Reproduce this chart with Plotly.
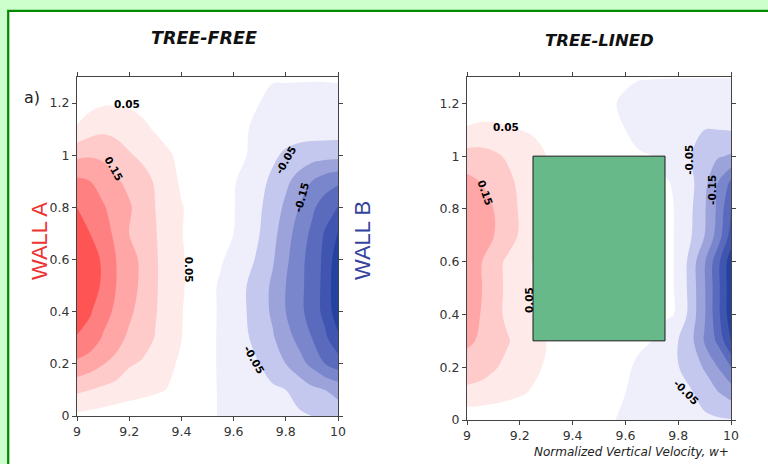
import plotly.graph_objects as go

# ---------------- data ----------------
X_VALUES = [9.00, 9.05, 9.10, 9.15, 9.20, 9.25, 9.30, 9.35, 9.40, 9.45, 9.50,
            9.55, 9.60, 9.65, 9.70, 9.75, 9.80, 9.85, 9.90, 9.95, 10.00]
Y_VALUES = [0.0, 0.1, 0.2, 0.3, 0.4, 0.5, 0.6, 0.7, 0.8, 0.9, 1.0, 1.1, 1.2, 1.3]

# normalized vertical velocity w+, TREE-FREE canyon (rows = Y_VALUES, cols = X_VALUES)
FREE_W = [
    [0.04, 0.035, 0.03, 0.025, 0.02, 0.017, 0.014, 0.012, 0.01, 0.008, 0.008, -0.003, -0.01, -0.016, -0.022, -0.028, -0.035, -0.043, -0.05, -0.06, -0.075],
    [0.11, 0.10, 0.09, 0.08, 0.072, 0.065, 0.057, 0.048, 0.035, 0.025, 0.01, -0.004, -0.012, -0.022, -0.033, -0.042, -0.05, -0.068, -0.088, -0.1, -0.115],
    [0.19, 0.175, 0.152, 0.135, 0.105, 0.095, 0.078, 0.06, 0.042, 0.03, 0.01, -0.005, -0.02, -0.035, -0.05, -0.075, -0.1, -0.13, -0.163, -0.2, -0.225],
    [0.245, 0.23, 0.195, 0.17, 0.14, 0.12, 0.098, 0.075, 0.051, 0.033, 0.01, -0.005, -0.025, -0.045, -0.07, -0.095, -0.13, -0.165, -0.2, -0.24, -0.29],
    [0.29, 0.255, 0.22, 0.19, 0.16, 0.13, 0.103, 0.078, 0.052, 0.034, 0.012, -0.005, -0.027, -0.05, -0.078, -0.108, -0.15, -0.185, -0.222, -0.265, -0.33],
    [0.315, 0.28, 0.24, 0.20, 0.17, 0.14, 0.105, 0.08, 0.055, 0.035, 0.012, -0.005, -0.027, -0.05, -0.078, -0.108, -0.15, -0.185, -0.222, -0.265, -0.34],
    [0.315, 0.28, 0.24, 0.20, 0.17, 0.14, 0.105, 0.08, 0.055, 0.035, 0.015, 0.004, -0.012, -0.035, -0.06, -0.095, -0.14, -0.183, -0.22, -0.262, -0.33],
    [0.29, 0.25, 0.22, 0.19, 0.15, 0.125, 0.103, 0.075, 0.052, 0.033, 0.017, 0.008, 0.0, -0.022, -0.05, -0.085, -0.128, -0.172, -0.21, -0.255, -0.305],
    [0.25, 0.23, 0.205, 0.18, 0.155, 0.13, 0.10, 0.077, 0.053, 0.035, 0.017, 0.008, 0.002, -0.018, -0.044, -0.075, -0.11, -0.15, -0.19, -0.225, -0.252],
    [0.21, 0.20, 0.18, 0.155, 0.14, 0.12, 0.095, 0.072, 0.042, 0.03, 0.016, 0.008, 0.003, -0.012, -0.035, -0.062, -0.09, -0.118, -0.15, -0.175, -0.19],
    [0.14, 0.145, 0.14, 0.125, 0.105, 0.09, 0.075, 0.055, 0.04, 0.028, 0.014, 0.008, 0.004, 0.0, -0.018, -0.04, -0.06, -0.072, -0.08, -0.083, -0.085],
    [0.055, 0.08, 0.09, 0.085, 0.075, 0.062, 0.045, 0.035, 0.025, 0.018, 0.01, 0.006, 0.003, 0.001, -0.005, -0.015, -0.022, -0.025, -0.025, -0.025, -0.025],
    [0.025, 0.035, 0.045, 0.045, 0.043, 0.035, 0.028, 0.02, 0.015, 0.01, 0.007, 0.005, 0.003, 0.001, 0.0, -0.006, -0.01, -0.012, -0.013, -0.013, -0.013],
    [0.01, 0.015, 0.02, 0.02, 0.02, 0.015, 0.012, 0.01, 0.008, 0.005, 0.005, 0.004, 0.003, 0.002, 0.002, 0.002, 0.003, 0.003, 0.003, 0.003, 0.004],
]

# normalized vertical velocity w+, TREE-LINED canyon
LINED_W = [
    [0.015, 0.014, 0.012, 0.01, 0.009, 0.008, 0.007, 0.006, 0.005, 0.004, 0.003, 0.001, -0.003, -0.008, -0.014, -0.02, -0.027, -0.035, -0.04, -0.044, -0.047],
    [0.085, 0.082, 0.075, 0.065, 0.055, 0.045, 0.035, 0.025, 0.015, 0.006, 0.004, 0.002, 0.0, -0.006, -0.013, -0.022, -0.032, -0.045, -0.07, -0.095, -0.12],
    [0.13, 0.12, 0.105, 0.09, 0.075, 0.06, 0.045, 0.032, 0.02, 0.008, 0.006, 0.004, 0.002, -0.002, -0.012, -0.025, -0.048, -0.075, -0.105, -0.15, -0.2],
    [0.158, 0.145, 0.125, 0.105, 0.085, 0.065, 0.05, 0.035, 0.022, 0.01, 0.008, 0.006, 0.004, 0.002, 0.0, -0.012, -0.05, -0.088, -0.155, -0.21, -0.3],
    [0.175, 0.15, 0.118, 0.092, 0.07, 0.048, 0.035, 0.025, 0.015, 0.01, 0.008, 0.006, 0.004, 0.004, 0.004, 0.004, -0.002, -0.075, -0.145, -0.235, -0.33],
    [0.18, 0.155, 0.12, 0.093, 0.07, 0.048, 0.035, 0.025, 0.015, 0.01, 0.008, 0.006, 0.005, 0.004, 0.004, 0.004, -0.002, -0.075, -0.145, -0.235, -0.33],
    [0.18, 0.155, 0.12, 0.093, 0.07, 0.048, 0.035, 0.025, 0.015, 0.01, 0.008, 0.006, 0.005, 0.004, 0.004, 0.004, -0.002, -0.075, -0.145, -0.235, -0.33],
    [0.185, 0.165, 0.152, 0.125, 0.095, 0.065, 0.045, 0.03, 0.02, 0.01, 0.008, 0.006, 0.005, 0.004, 0.004, 0.004, -0.002, -0.048, -0.1, -0.17, -0.27],
    [0.19, 0.17, 0.15, 0.125, 0.095, 0.065, 0.045, 0.03, 0.02, 0.01, 0.008, 0.006, 0.005, 0.004, 0.004, 0.004, -0.002, -0.045, -0.095, -0.16, -0.25],
    [0.165, 0.15, 0.135, 0.115, 0.09, 0.065, 0.045, 0.03, 0.02, 0.01, 0.008, 0.006, 0.005, 0.004, 0.004, 0.003, -0.005, -0.04, -0.085, -0.15, -0.21],
    [0.12, 0.12, 0.11, 0.095, 0.08, 0.065, 0.05, 0.035, 0.02, 0.01, 0.008, 0.006, 0.004, 0.002, 0.0, -0.01, -0.03, -0.05, -0.075, -0.095, -0.105],
    [0.055, 0.06, 0.06, 0.055, 0.05, 0.045, 0.035, 0.025, 0.015, 0.008, 0.006, 0.003, 0.0, -0.006, -0.012, -0.02, -0.03, -0.04, -0.05, -0.05, -0.048],
    [0.02, 0.025, 0.025, 0.025, 0.022, 0.02, 0.015, 0.01, 0.008, 0.006, 0.004, 0.001, -0.002, -0.006, -0.01, -0.014, -0.017, -0.02, -0.022, -0.022, -0.02],
    [0.01, 0.012, 0.012, 0.012, 0.01, 0.008, 0.006, 0.004, 0.003, 0.004, 0.003, 0.002, 0.002, 0.001, 0.001, 0.001, 0.001, 0.001, 0.001, 0.001, 0.001],
]

LEVEL_START = -0.30
LEVEL_END = 0.25
LEVEL_STEP = 0.05
# band colours from (< -0.30) up to (> 0.25)
LEVEL_COLORS = ["#2443a0", "#3f55b0", "#5a6bbd", "#7a86cb", "#9ca3da", "#c4c7ee", "#eeeffb",
                "#ffffff", "#ffeaea", "#ffcaca", "#ffa6a6", "#ff8080", "#ff5454"]

TREE_X = [9.25, 9.75]
TREE_Y = [0.30, 1.00]

X_TICKS = [9, 9.2, 9.4, 9.6, 9.8, 10]
X_TICK_LABELS = ["9", "9.2", "9.4", "9.6", "9.8", "10"]
Y_TICKS = [0, 0.2, 0.4, 0.6, 0.8, 1.0, 1.2]
Y_TICK_LABELS = ["0", "0.2", "0.4", "0.6", "0.8", "1", "1.2"]

FREE_LABELS = [("0.05", 9.19, 1.195, 0), ("0.15", 9.14, 0.95, 60), ("0.05", 9.43, 0.56, 90),
               ("-0.05", 9.80, 0.98, -60), ("-0.15", 9.86, 0.84, -75), ("-0.05", 9.68, 0.215, 60)]
LINED_LABELS = [("0.05", 9.148, 1.11, 0), ("0.15", 9.07, 0.86, 70), ("0.05", 9.235, 0.455, -90),
                ("-0.05", 9.84, 0.985, -90), ("-0.15", 9.93, 0.87, -90), ("-0.05", 9.83, 0.105, 45)]

# ---------------- figure ----------------
W, H = 768, 464
n_bands = len(LEVEL_COLORS) - 1
colorscale = [[k / n_bands, c] for k, c in enumerate(LEVEL_COLORS)]


def contour(z, xa, ya):
    return go.Contour(
        x=X_VALUES, y=Y_VALUES, z=z, xaxis=xa, yaxis=ya,
        autocontour=False,
        contours=dict(start=LEVEL_START, end=LEVEL_END, size=LEVEL_STEP,
                      coloring="fill", showlines=False),
        line=dict(width=0, smoothing=1.0),
        colorscale=colorscale, showscale=False, hoverinfo="skip",
    )


fig = go.Figure()
fig.add_trace(contour(FREE_W, "x", "y"))
fig.add_trace(contour(LINED_W, "x2", "y2"))
fig.add_trace(go.Scatter(
    x=[TREE_X[0], TREE_X[1], TREE_X[1], TREE_X[0], TREE_X[0]],
    y=[TREE_Y[0], TREE_Y[0], TREE_Y[1], TREE_Y[1], TREE_Y[0]],
    xaxis="x2", yaxis="y2", mode="lines", fill="toself",
    fillcolor="#68b98a", line=dict(color="#1a1a1a", width=1),
    hoverinfo="skip", showlegend=False,
))

tickfont = dict(family="DejaVu Sans", size=12.5, color="#333333")
axis_common = dict(showline=True, linecolor="#444444", linewidth=1, mirror="ticks",
                   ticks="outside", ticklen=4, tickcolor="#444444", tickwidth=1,
                   showgrid=False, zeroline=False, tickfont=tickfont, automargin=False)

def px_x(p):
    return p / W

def px_y(p):
    return 1 - p / H

fig.update_layout(
    template="none",
    width=W, height=H,
    margin=dict(l=0, r=0, t=0, b=0),
    paper_bgcolor="#ccffcc",
    plot_bgcolor="#ffffff",
    showlegend=False,
    xaxis=dict(domain=[px_x(77), px_x(338)], range=[9, 10], anchor="y",
               tickmode="array", tickvals=X_TICKS, ticktext=X_TICK_LABELS, **axis_common),
    yaxis=dict(domain=[px_y(416), px_y(77)], range=[0, 1.3], anchor="x",
               tickmode="array", tickvals=Y_TICKS, ticktext=Y_TICK_LABELS, **axis_common),
    xaxis2=dict(domain=[px_x(467), px_x(731)], range=[9, 10], anchor="y2",
                tickmode="array", tickvals=X_TICKS, ticktext=X_TICK_LABELS, **axis_common),
    yaxis2=dict(domain=[px_y(420), px_y(77)], range=[0, 1.3], anchor="x2",
                tickmode="array", tickvals=Y_TICKS, ticktext=Y_TICK_LABELS, **axis_common),
    shapes=[dict(type="rect", xref="paper", yref="paper", layer="below",
                 x0=px_x(8.2), x1=1.05, y0=-0.05, y1=px_y(10.8),
                 fillcolor="#ffffff", line=dict(color="#008a00", width=2.2))],
)


def paper_text(text, xp, yp, size, color, family="DejaVu Sans", angle=0, xanchor="center"):
    return dict(text=text, x=px_x(xp), y=px_y(yp), xref="paper", yref="paper",
                xanchor=xanchor, yanchor="middle", textangle=angle, showarrow=False,
                font=dict(family=family, size=size, color=color))


ann = [
    paper_text("<b><i>TREE-FREE</i></b>", 204, 38, 17.5, "#111111"),
    paper_text("<b><i>TREE-LINED</i></b>", 599, 40, 16.5, "#111111"),
    paper_text("a)", 32, 97, 16, "#222222"),
    paper_text("WALL A", 39, 241, 22, "#ee3333", family="Liberation Sans", angle=-90),
    paper_text("WALL B", 362, 241, 22, "#34449c", family="Liberation Sans", angle=-90),
    paper_text("<i>Normalized Vertical Velocity, w+</i>", 731, 452, 12, "#222222", xanchor="right"),
]

for txt, xv, yv, ang in FREE_LABELS:
    ann.append(dict(text="<b>%s</b>" % txt, x=xv, y=yv, xref="x", yref="y", textangle=ang,
                    showarrow=False, font=dict(family="DejaVu Sans", size=10.5, color="#000000")))
for txt, xv, yv, ang in LINED_LABELS:
    ann.append(dict(text="<b>%s</b>" % txt, x=xv, y=yv, xref="x2", yref="y2", textangle=ang,
                    showarrow=False, font=dict(family="DejaVu Sans", size=10.5, color="#000000")))

fig.update_layout(annotations=ann)

# remove the default 8px page margin so the figure fills the window exactly
PAGE_FIX = ("document.body.style.margin='0px';"
            "document.body.style.padding='0px';"
            "document.body.style.backgroundColor='#ccffcc';"
            "document.body.style.overflow='hidden';")

fig.write_html("out.html", post_script=PAGE_FIX, config={"displayModeBar": False})
